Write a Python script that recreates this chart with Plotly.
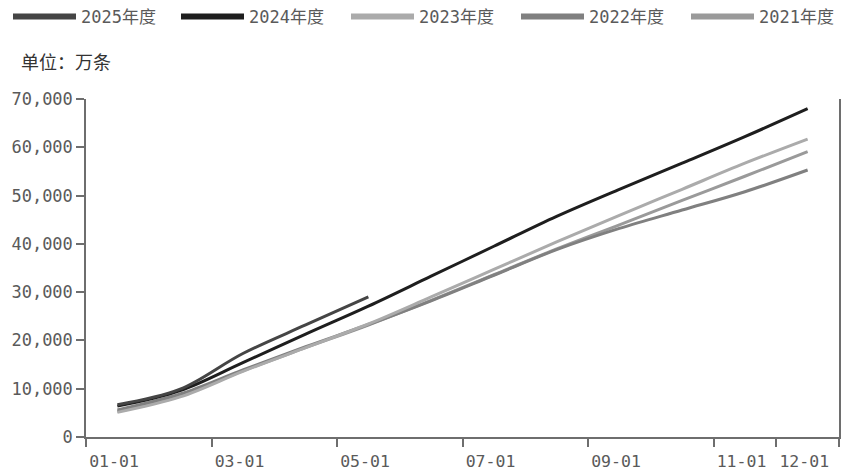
import plotly.graph_objects as go

# x positions: month index (Jan centre = 0.5)
months = [0.5, 1.5, 2.5, 3.5, 4.5, 5.5, 6.5, 7.5, 8.5, 9.5, 10.5, 11.5]

y2025 = [6700, 9900, 17300, 23200, 29000]
y2024 = [6400, 9600, 15400, 21300, 27100, 33300, 39500, 45700, 51300, 56700, 62200, 68000]
y2023 = [5100, 8300, 13600, 18500, 23400, 29000, 34700, 40400, 45900, 51300, 56700, 61700]
y2022 = [5600, 8900, 13900, 18700, 23300, 28200, 33500, 38800, 43200, 47000, 50800, 55300]
y2021 = [5300, 8500, 13700, 18500, 23200, 28300, 33600, 38950, 43950, 49000, 54000, 59100]

series_names = ["2025年度", "2024年度", "2023年度", "2022年度", "2021年度"]
series_vals = [y2025, y2024, y2023, y2022, y2021]
series_colors = ["#454545", "#1e1e1e", "#ababab", "#808080", "#9a9a9a"]

tick_vals = [0, 2, 4, 6, 8, 10, 11, 12]
tick_text = ["01-01", "03-01", "05-01", "07-01", "09-01", "11-01", "12-01", ""]
y_ticks = [0, 10000, 20000, 30000, 40000, 50000, 60000, 70000]
y_text = ["0", "10,000", "20,000", "30,000", "40,000", "50,000", "60,000", "70,000"]

FONT = "DejaVu Sans Mono, Noto Sans CJK SC, sans-serif"
TXT = "#5a5a5a"

# page body has an 8px default margin; size the figure to fit the 850x474 window
OFF = 8
W, H = 850 - OFF, 474 - OFF
ML, MT, MR, MB = 86 - OFF, 99 - OFF, 11, 37
PW, PH = W - ML - MR, H - MT - MB

fig = go.Figure()
for name, vals, col in reversed(list(zip(series_names, series_vals, series_colors))):
    fig.add_trace(go.Scatter(
        x=months[:len(vals)], y=vals, mode="lines", name=name,
        line=dict(color=col, width=3, shape="spline", smoothing=1.0),
        showlegend=False, hoverinfo="skip"))

legend_layouts = {}
for i, (name, col) in enumerate(zip(series_names, series_colors)):
    key = "legend" if i == 0 else f"legend{i + 1}"
    fig.add_trace(go.Scatter(
        x=[None], y=[None], mode="lines", name=name,
        line=dict(color=col, width=6), showlegend=True, legend=key))
    legend_layouts[key] = dict(
        orientation="h", xref="container", yref="container",
        x=min(1.0, max(0.0, (i * 170 - 2) / W)), y=1 - 9 / H,
        xanchor="left", yanchor="middle", itemwidth=63,
        font=dict(family=FONT, size=17, color=TXT),
        bgcolor="rgba(0,0,0,0)")

fig.update_layout(
    width=W, height=H,
    margin=dict(l=ML, r=MR, t=MT, b=MB, autoexpand=False),
    paper_bgcolor="white", plot_bgcolor="white",
    font=dict(family=FONT, size=16, color=TXT),
    showlegend=True,
    xaxis=dict(range=[0, 12], tickmode="array", tickvals=tick_vals, ticktext=tick_text,
               showgrid=False, zeroline=False, showline=True, linecolor="#6e6e6e", linewidth=1.5,
               ticks="outside", ticklen=8, tickcolor="#6e6e6e", tickwidth=1.5,
               ticklabelshift=28, tickfont=dict(family=FONT, size=16.5, color=TXT)),
    yaxis=dict(range=[0, 70000], tickmode="array", tickvals=y_ticks, ticktext=y_text,
               showgrid=False, zeroline=False, showline=True, linecolor="#6e6e6e", linewidth=1.5,
               mirror=True, ticks="outside", ticklen=8, tickcolor="#6e6e6e", tickwidth=1.5,
               tickfont=dict(family=FONT, size=17, color=TXT)),
    **legend_layouts,
)
fig.add_annotation(text="单位：万条", xref="paper", yref="paper",
                   x=(11 - ML) / PW, y=1 + (MT - (63 - OFF)) / PH,
                   xanchor="left", yanchor="middle", showarrow=False,
                   font=dict(family=FONT, size=18, color="#333333"))

fig.write_html("out.html")
